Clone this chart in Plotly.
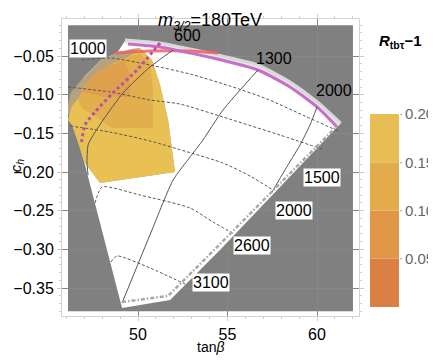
import plotly.graph_objects as go

FONT = 'Liberation Sans, Arial, sans-serif'

# visible parameter window (tan beta, c_h)
frame_tb = [46.09, 62.01]
frame_ch = [-0.380, -0.010]

# allowed (white) region
allowed_tb = [49.27, 51.23, 52.35, 54.19, 56.70, 58.49, 60.00, 61.29,
              54.58, 51.79, 49.11, 47.99, 47.04, 46.31, 46.09, 46.98, 47.93, 48.83]
allowed_ch = [-0.0305, -0.0343, -0.0395, -0.0486, -0.0628, -0.0848, -0.1107, -0.1378,
              -0.3008, -0.3655, -0.3759, -0.2750, -0.1909, -0.1327, -0.1223, -0.0770, -0.0550, -0.0460]

# R_tbtau - 1 regions (outer -> inner)
r_outer_tb = [46.09, 46.26, 46.98, 47.93, 48.83, 49.61, 50.11, 50.78, 51.23, 51.68,
              52.07, 47.88, 47.04, 46.31, 46.09]
r_outer_ch = [-0.1120, -0.0964, -0.0770, -0.0550, -0.0460, -0.0408, -0.0395, -0.0550,
              -0.0874, -0.1327, -0.1999, -0.2142, -0.1883, -0.1391, -0.1223]
r_main_tb = [46.09, 46.31, 46.98, 47.88, 48.77, 49.55, 50.11, 50.78, 51.23, 51.68,
             52.07, 47.88, 47.04, 46.31]
r_main_ch = [-0.1327, -0.1145, -0.0964, -0.0783, -0.0628, -0.0499, -0.0395, -0.0550,
             -0.0874, -0.1327, -0.1999, -0.2142, -0.1883, -0.1391]
r_mid_tb = [46.65, 46.98, 47.77, 48.72, 49.55, 50.11, 50.67, 50.84, 50.84, 48.55, 47.60, 46.87]
r_mid_ch = [-0.1068, -0.0887, -0.0706, -0.0576, -0.0499, -0.0473, -0.0576, -0.0938,
            -0.1430, -0.1430, -0.1275, -0.1171]
r_low_tb = [46.87, 47.32, 48.16, 49.27, 49.55, 49.55, 48.16]
r_low_ch = [-0.0964, -0.0783, -0.0654, -0.0550, -0.0744, -0.1029, -0.1029]

# dashed contours
dash_lines = [
    ([46.87, 48.44, 50.67, 52.91, 55.14, 57.21, 59.33, 61.17],
     [-0.0550, -0.0524, -0.0615, -0.0732, -0.0887, -0.1055, -0.1275, -0.1469]),
    ([46.09, 48.44, 50.67, 52.35, 54.75, 57.93, 60.28],
     [-0.0900, -0.0964, -0.1068, -0.1120, -0.1288, -0.1521, -0.1702]),
    ([46.20, 48.44, 50.67, 52.79, 54.75, 56.26, 57.54],
     [-0.1404, -0.1482, -0.1598, -0.1741, -0.1883, -0.2051, -0.2232]),
    ([47.60, 47.99, 50.11, 52.91, 54.19, 55.36],
     [-0.2400, -0.2193, -0.2297, -0.2465, -0.2646, -0.2801]),
    ([48.49, 48.83, 50.67, 52.63],
     [-0.3164, -0.3086, -0.3241, -0.3448]),
]

# solid contours (600, 1300, 2000)
solid_lines = [
    ([51.96, 50.67, 49.16, 48.05, 47.43, 47.21, 47.15, 47.21],
     [-0.0421, -0.0641, -0.0977, -0.1327, -0.1547, -0.1650, -0.1870, -0.2038]),
    ([56.70, 54.75, 53.63, 52.91, 51.96, 50.78, 49.11],
     [-0.0680, -0.1197, -0.1585, -0.1805, -0.2103, -0.2750, -0.3694]),
    ([60.00, 59.61, 59.05, 58.21, 57.49],
     [-0.1158, -0.1391, -0.1650, -0.1973, -0.2258]),
]

band_tb = [49.27, 51.23, 52.35, 54.19, 56.70, 58.49, 60.00, 61.29]
band_ch = [-0.0305, -0.0343, -0.0395, -0.0486, -0.0628, -0.0848, -0.1107, -0.1378]
mag_tb = [49.44, 51.23, 52.35, 54.19, 56.70, 58.49, 60.00, 61.12]
mag_ch = [-0.0343, -0.0382, -0.0434, -0.0525, -0.0680, -0.0900, -0.1158, -0.1417]
red_tb = [48.72, 50.67, 52.91, 54.47]
red_ch = [-0.0460, -0.0434, -0.0434, -0.0460]
dot_tb = [51.23, 49.94, 48.60, 47.60, 47.04, 46.82]
dot_ch = [-0.0330, -0.0680, -0.0977, -0.1223, -0.1391, -0.1650]
edge_tb = [49.11, 51.68, 54.36, 61.01]
edge_ch = [-0.3681, -0.3603, -0.2983, -0.1430]

# contour labels
lab_text = ['1000', '600', '1300', '2000', '1500', '2000', '2600', '3100']
lab_tb = [47.21, 52.74, 57.60, 60.95, 60.28, 58.72, 56.37, 54.08]
lab_ch = [-0.0408, -0.0227, -0.0537, -0.0951, -0.2064, -0.2491, -0.2944, -0.3435]
lab_box = [True, False, False, False, True, True, True, True]

# legend bar
cb_base = [0.0, 0.05, 0.10, 0.15]
cb_step = [0.05, 0.05, 0.05, 0.05]
cb_colors = ['#DB8044', '#DF9747', '#E2AB4B', '#E6BE53']

fig = go.Figure()


def poly(x, y, color):
    fig.add_trace(go.Scatter(x=x, y=y, fill='toself', fillcolor=color, mode='lines',
                             line=dict(width=0), hoverinfo='skip', showlegend=False))


def line(x, y, color, width, dash='solid', shape='spline'):
    fig.add_trace(go.Scatter(x=x, y=y, mode='lines', hoverinfo='skip', showlegend=False,
                             line=dict(color=color, width=width, dash=dash, shape=shape, smoothing=0.6)))


poly(allowed_tb, allowed_ch, 'white')
poly(r_outer_tb, r_outer_ch, '#B6A27E')
poly(r_main_tb, r_main_ch, '#E8C054')
poly(r_mid_tb, r_mid_ch, '#E3AE4E')
poly(r_low_tb, r_low_ch, '#DEA04C')

line(band_tb, band_ch, 'rgba(225,225,225,0.9)', 5)
line(red_tb, red_ch, 'rgba(240,96,96,0.85)', 3)
line(mag_tb, mag_ch, '#C86EC8', 3)

for x, y in dash_lines:
    line(x, y, '#555555', 1, dash='3px,2px')
for x, y in solid_lines:
    line(x, y, '#555555', 1)

line(dot_tb, dot_ch, '#B552A8', 3, dash='dot')
line(edge_tb, edge_ch, '#A8A8A8', 2.5, dash='4px,2px,1.5px,2px', shape='linear')

# legend bar on its own axes
fig.add_trace(go.Bar(x=[0] * 4, y=cb_step, base=cb_base, marker=dict(color=cb_colors, line=dict(width=0)),
                     width=1, xaxis='x2', yaxis='y2', hoverinfo='skip', showlegend=False))

fig.add_shape(type='rect', x0=frame_tb[0], x1=frame_tb[1], y0=frame_ch[0], y1=frame_ch[1],
              fillcolor='#808080', line=dict(width=0), layer='below')

for t, x, y, box in zip(lab_text, lab_tb, lab_ch, lab_box):
    fig.add_annotation(x=x, y=y, text=t, showarrow=False, font=dict(size=16, color='black', family=FONT),
                       bgcolor='white' if box else 'rgba(0,0,0,0)', borderpad=0)


def note(x, y, text, size, angle=0, yanchor='middle'):
    fig.add_annotation(xref='paper', yref='paper', x=x, y=y, text=text, showarrow=False,
                       xanchor='center', yanchor=yanchor, textangle=angle,
                       font=dict(size=size, color='black', family=FONT))


note(0.4066, 1.037, '<i>m</i><sub><i>3/2</i></sub>=180TeV', 18, yanchor='top')
note(0.4066, -0.106, 'tan<i>β</i>', 14)
note(-0.126, 0.508, '<i>c</i><sub><i>h</i></sub>', 15, angle=-90)
note(0.929, 0.9226, '<b><i>R</i><sub>tbτ</sub>−1</b>', 15)

frame = dict(showline=True, linecolor='#d4d4d4', linewidth=1, mirror='ticks', ticks='outside',
             ticklen=4, tickcolor='#cccccc', zeroline=False, automargin=False,
             tickfont=dict(size=16, color='black', family=FONT))

# the page puts the figure 8px in from the top-left corner, so it is 8px smaller than the window
fig.update_layout(
    width=428, height=353,
    margin=dict(l=54, r=10, t=11, b=45, autoexpand=False),
    paper_bgcolor='white', plot_bgcolor='white',
    barmode='overlay',
    xaxis=dict(frame, domain=[0, 0.8159], range=[45.754, 62.346], tickvals=[50, 55, 60],
               showgrid=True, gridcolor='#878787', gridwidth=1,
               minor=dict(dtick=1, ticklen=2, tickcolor='#cccccc', showgrid=False)),
    yaxis=dict(frame, range=[-0.3862, -0.002], tickvals=[-0.35, -0.30, -0.25, -0.20, -0.15, -0.10, -0.05],
               tickformat='.2f', showgrid=True, gridcolor='#878787', gridwidth=1,
               minor=dict(dtick=0.01, tick0=0, ticklen=2, tickcolor='#cccccc', showgrid=False)),
    xaxis2=dict(domain=[0.8462, 0.9258], range=[-0.5, 0.5], anchor='y2', visible=False),
    yaxis2=dict(domain=[0.0303, 0.6801], range=[0, 0.2], anchor='x2', side='right', showgrid=False,
                zeroline=False, showline=False, ticks='outside', ticklen=2, tickcolor='#aaaaaa',
                tickvals=[0.05, 0.10, 0.15, 0.20], tickformat='.2f', automargin=False,
                tickfont=dict(size=15, color='#666666', family=FONT)),
)

fig.write_html("out.html")
